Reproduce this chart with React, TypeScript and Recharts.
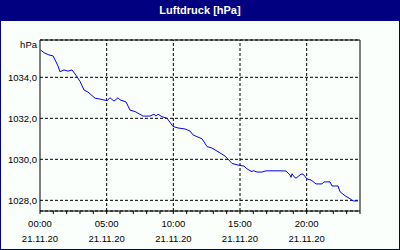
import React from 'react';
import { LineChart, Line, XAxis, YAxis, CartesianGrid, ReferenceLine } from 'recharts';

const hours = [0.05, 0.3, 0.67, 0.97, 1.13, 1.35, 1.5, 1.8, 2.1, 2.4, 2.7, 3.0, 3.3, 3.6, 4.13, 4.5, 5.03, 5.25, 5.55, 5.85, 6.0, 6.45, 6.75, 7.13, 7.73, 8.25, 8.55, 8.7, 8.85, 9.15, 9.53, 9.98, 10.35, 10.88, 11.25, 11.48, 12.15, 12.53, 12.9, 13.35, 13.88, 14.4, 14.85, 15.3, 15.53, 15.9, 15.98, 16.28, 16.65, 16.95, 18.0, 18.45, 18.75, 18.83, 18.9, 19.05, 19.2, 19.58, 19.73, 20.03, 20.33, 20.7, 21.15, 21.3, 21.75, 21.9, 22.35, 22.5, 22.88, 23.25, 23.48, 23.85];
const pressure = [1035.33, 1035.2, 1035.09, 1035.05, 1034.85, 1034.55, 1034.27, 1034.36, 1034.3, 1034.36, 1034.1, 1033.8, 1033.38, 1033.28, 1032.98, 1032.94, 1032.86, 1033.0, 1032.84, 1033.0, 1032.9, 1032.8, 1032.4, 1032.33, 1032.11, 1032.11, 1032.2, 1032.11, 1032.2, 1032.08, 1032.0, 1031.6, 1031.53, 1031.48, 1031.38, 1031.19, 1031.0, 1030.62, 1030.55, 1030.37, 1030.16, 1029.8, 1029.72, 1029.67, 1029.53, 1029.4, 1029.45, 1029.38, 1029.38, 1029.44, 1029.44, 1029.43, 1029.23, 1029.12, 1029.3, 1029.15, 1029.08, 1029.28, 1029.28, 1029.04, 1028.99, 1028.8, 1028.8, 1028.9, 1028.9, 1028.7, 1028.7, 1028.42, 1028.22, 1028.08, 1027.97, 1027.97];

const yTicks = [1028, 1030, 1032, 1034];
const yDomain = [1027.48, 1035.82];
const xAllTicks = Array.from({ length: 25 }, (_, i) => i);
const labelHours = [0, 5, 10, 15, 20];
const labelTimes = ['00:00', '05:00', '10:00', '15:00', '20:00'];
const labelDates = ['21.11.20', '21.11.20', '21.11.20', '21.11.20', '21.11.20'];
const gridHours = [5, 10, 15, 20];

const title = 'Luftdruck [hPa]';
const unit = 'hPa';

const data = hours.map((h, i) => ({ h, p: pressure[i] }));

const FONT = '"Liberation Sans", Arial, sans-serif';

const XTick = (props: any) => {
  const { x, y, payload } = props;
  const idx = labelHours.indexOf(payload.value);
  if (idx < 0) return null;
  return (
    <g>
      <text x={x} y={y + 13} textAnchor="middle" fontSize={9.5} fill="#000" fontFamily={FONT}>{labelTimes[idx]}</text>
      <text x={x} y={y + 28} textAnchor="middle" fontSize={9.5} fill="#000" fontFamily={FONT}>{labelDates[idx]}</text>
    </g>
  );
};

const YTick = (props: any) => {
  const { x, y, payload } = props;
  return (
    <text x={x} y={y + 3.5} textAnchor="end" fontSize={9.5} fill="#000" fontFamily={FONT}>
      {payload.value.toFixed(1).replace('.', ',')}
    </text>
  );
};

const UnitLabel = (props: any) => {
  const vb = props.viewBox || {};
  return (
    <text x={vb.x + vb.width - 3} y={vb.y + 8} textAnchor="end" fontSize={9.5} fill="#000" fontFamily={FONT}>{unit}</text>
  );
};

export default function App() {
  return (
    <div style={{ position: 'absolute', left: 0, top: 0, width: 400, height: 250, background: '#000080' }}>
      <div style={{ position: 'absolute', left: 1, top: 21, width: 398, height: 228, background: '#FBFFFB' }} />
      <div style={{ position: 'absolute', left: 0, top: 0, width: 400, height: 21, lineHeight: '21px', textAlign: 'center', color: '#fff', fontWeight: 'bold', fontSize: 11, fontFamily: FONT }}>{title}</div>
      <div style={{ position: 'absolute', left: 0, top: 0 }}>
        <LineChart width={400} height={250} data={data} margin={{ top: 40, right: 40, left: 0, bottom: 0 }} style={{ fontFamily: FONT }}>
          <CartesianGrid vertical={false} stroke="#000" strokeDasharray="3 2" />
          {gridHours.map((g) => (
            <ReferenceLine key={g} x={g} stroke="#000" strokeDasharray="3 2" />
          ))}
          <ReferenceLine y={yDomain[1]} stroke="#000" />
          <ReferenceLine x={24} stroke="#000" />
          <XAxis
            type="number"
            dataKey="h"
            domain={[0, 24]}
            ticks={xAllTicks}
            interval={0}
            height={39}
            axisLine={{ stroke: '#000' }}
            tickLine={{ stroke: '#000' }}
            tickSize={3}
            tickMargin={0}
            tick={<XTick />}
          />
          <YAxis
            type="number"
            domain={yDomain}
            ticks={yTicks}
            interval={0}
            width={40}
            axisLine={{ stroke: '#000' }}
            tickLine={false}
            tickSize={3}
            tickMargin={0}
            tick={<YTick />}
            label={{ content: <UnitLabel /> }}
            allowDataOverflow
          />
          <Line type="linear" dataKey="p" stroke="#0000FF" strokeWidth={1} dot={false} isAnimationActive={false} />
        </LineChart>
      </div>
    </div>
  );
}
